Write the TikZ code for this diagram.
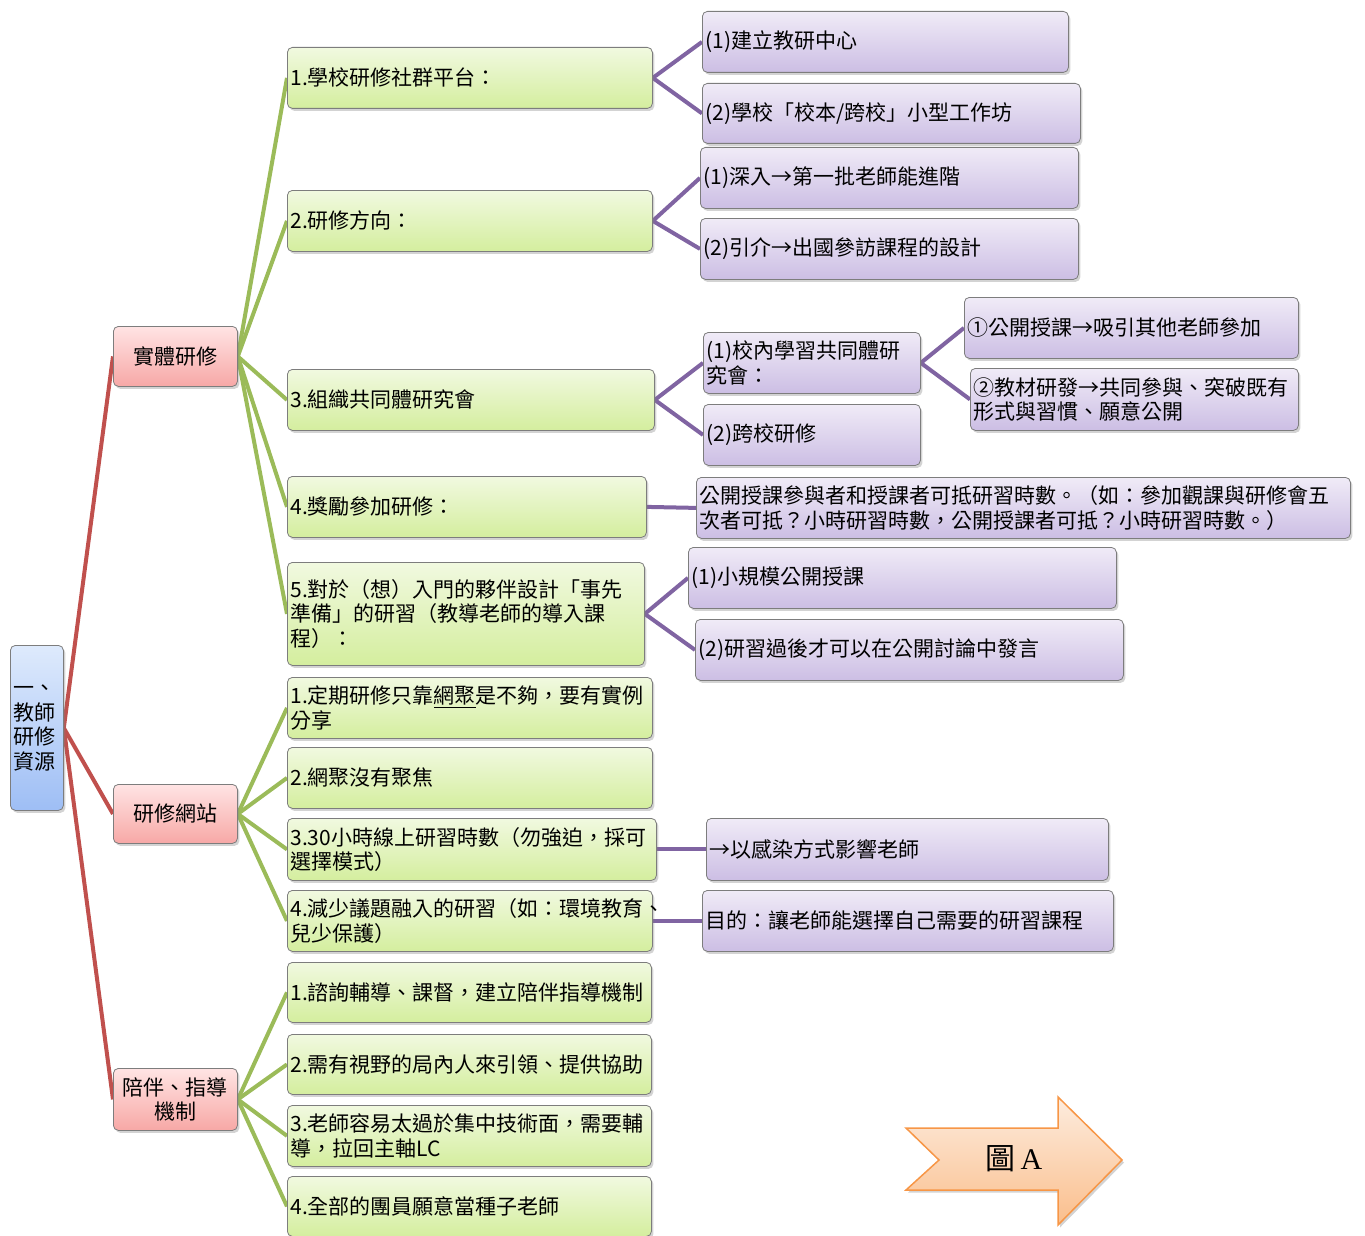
\documentclass[tikz,border=0pt]{standalone}
\usepackage{fontspec}
\setmainfont{Noto Sans CJK TC}
\newfontfamily\serifA{Liberation Serif}
\usetikzlibrary{shadows,backgrounds}
\definecolor{gtop}{RGB}{241,249,224}
\definecolor{gbot}{RGB}{212,238,158}
\definecolor{ptop}{RGB}{240,235,247}
\definecolor{pbot}{RGB}{204,190,228}
\definecolor{rtop}{RGB}{255,228,228}
\definecolor{rbot}{RGB}{247,168,166}
\definecolor{btop}{RGB}{222,234,252}
\definecolor{bbot}{RGB}{158,190,245}
\definecolor{edgegray}{RGB}{125,125,125}
\definecolor{redline}{RGB}{192,80,77}
\definecolor{greenline}{RGB}{155,187,89}
\definecolor{purpline}{RGB}{128,100,162}
\definecolor{arrtop}{RGB}{253,236,222}
\definecolor{arrbot}{RGB}{250,190,140}
\definecolor{arrline}{RGB}{247,150,70}
\tikzset{
  bx/.code 2 args={\pgfmathsetmacro\bxw{#1-6}\edef\bxtmp{\noexpand\tikzset{minimum width=#1pt, text width=\bxw pt, minimum height=#2pt}}\bxtmp},
  basebox/.style={rectangle, rounded corners=5pt, draw=edgegray, line width=0.8pt,
    inner xsep=3pt, inner ysep=2pt, anchor=north west, align=left,
    font=\fontsize{21pt}{24.5pt}\selectfont,
    drop shadow={opacity=0.35, shadow xshift=2pt, shadow yshift=-2.5pt}},
  gbox/.style={basebox, top color=gtop, bottom color=gbot},
  pbox/.style={basebox, top color=ptop, bottom color=pbot},
  rbox/.style={basebox, top color=rtop, bottom color=rbot, align=center},
  bbox/.style={basebox, top color=btop, bottom color=bbot},
  redc/.style={draw=redline, line width=4pt},
  greenc/.style={draw=greenline, line width=4pt},
  purpc/.style={draw=purpline, line width=4pt},
}
\begin{document}
\begin{tikzpicture}[x=1pt,y=-1pt]
\useasboundingbox (0,0) rectangle (1365,1236);
% root
\node[bbox, bx={53}{165}] (root) at (10,645) {一、\\教師\\研修\\資源};
% level 1
\node[rbox, bx={124}{60}] (r1) at (113,326) {實體研修};
\node[rbox, bx={124}{59}] (r2) at (113,784) {研修網站};
\node[rbox, bx={124}{62}] (r3) at (113,1068) {陪伴、指導\\機制};
% level 2
\node[gbox, bx={365}{61}] (g1) at (287,47) {1.學校研修社群平台：};
\node[gbox, bx={365}{61}] (g2) at (287,190) {2.研修方向：};
\node[gbox, bx={367}{61}] (g3) at (287,369) {3.組織共同體研究會};
\node[gbox, bx={359}{61}] (g4) at (287,476) {4.獎勵參加研修：};
\node[gbox, bx={357}{103}] (g5) at (287,562) {5.對於（想）入門的夥伴設計「事先\\準備」的研習（教導老師的導入課\\程）：};
\node[gbox, bx={365}{61}] (g6) at (287,677) {1.定期研修只靠\underline{網聚}是不夠，要有實例\\分享};
\node[gbox, bx={365}{61}] (g7) at (287,747) {2.網聚沒有聚焦};
\node[gbox, bx={369}{62}] (g8) at (287,818) {3.30小時線上研習時數（勿強迫，採可\\選擇模式）};
\node[gbox, bx={365}{61}] (g9) at (287,890) {4.減少議題融入的研習（如：環境教育、\\兒少保護）};
\node[gbox, bx={364}{60}] (g10) at (287,962) {1.諮詢輔導、課督，建立陪伴指導機制};
\node[gbox, bx={364}{60}] (g11) at (287,1034) {2.需有視野的局內人來引領、提供協助};
\node[gbox, bx={364}{61}] (g12) at (287,1105) {3.老師容易太過於集中技術面，需要輔\\導，拉回主軸LC};
\node[gbox, bx={364}{60}] (g13) at (287,1176) {4.全部的團員願意當種子老師};
% level 3
\node[pbox, bx={366}{61}] (p1) at (702,11) {(1)建立教研中心};
\node[pbox, bx={378}{60}] (p2) at (702,83) {(2)學校「校本/跨校」小型工作坊};
\node[pbox, bx={378}{61}] (p3) at (700,147) {(1)深入→第一批老師能進階};
\node[pbox, bx={378}{61}] (p4) at (700,218) {(2)引介→出國參訪課程的設計};
\node[pbox, bx={217}{61}] (p5) at (703,332) {(1)校內學習共同體研\\究會：};
\node[pbox, bx={217}{61}] (p6) at (703,404) {(2)跨校研修};
\node[pbox, bx={334}{61}] (p7) at (964,297) {①公開授課→吸引其他老師參加};
\node[pbox, bx={328}{62}] (p8) at (970,368) {②教材研發→共同參與、突破既有\\形式與習慣、願意公開};
\node[pbox, bx={654}{61}] (p9) at (696,477) {公開授課參與者和授課者可抵研習時數。（如：參加觀課與研修會五\\次者可抵？小時研習時數，公開授課者可抵？小時研習時數。）};
\node[pbox, bx={428}{61}] (p10) at (688,547) {(1)小規模公開授課};
\node[pbox, bx={428}{61}] (p11) at (695,619) {(2)研習過後才可以在公開討論中發言};
\node[pbox, bx={402}{62}] (p12) at (706,818) {→以感染方式影響老師};
\node[pbox, bx={411}{61}] (p13) at (702,890) {目的：讓老師能選擇自己需要的研習課程};
% connectors
\begin{pgfonlayer}{background}
\foreach \t in {r1,r2,r3} \draw[redc] (root.east) -- (\t.west);
\foreach \t in {g1,g2,g3,g4,g5} \draw[greenc] (r1.east) -- (\t.west);
\foreach \t in {g6,g7,g8,g9} \draw[greenc] (r2.east) -- (\t.west);
\foreach \t in {g10,g11,g12,g13} \draw[greenc] (r3.east) -- (\t.west);
\draw[purpc] (p1.west) -- (g1.east) -- (p2.west);
\draw[purpc] (p3.west) -- (g2.east) -- (p4.west);
\draw[purpc] (p5.west) -- (g3.east) -- (p6.west);
\draw[purpc] (p7.west) -- (p5.east) -- (p8.west);
\draw[purpc] (g4.east) -- (p9.west);
\draw[purpc] (p10.west) -- (g5.east) -- (p11.west);
\draw[purpc] (g8.east) -- (p12.west);
\draw[purpc] (g9.east) -- (p13.west);
\end{pgfonlayer}
% arrow
\path[draw=arrline, line width=1.5pt, line join=miter, top color=arrtop, bottom color=arrbot,
  drop shadow={opacity=0.35, shadow xshift=2pt, shadow yshift=-2.5pt}]
  (906,1128) -- (1058,1128) -- (1058,1097) -- (1122,1160) -- (1058,1225) -- (1058,1190) -- (906,1190) -- (939,1160) -- cycle;
\node[font=\fontsize{30pt}{30pt}\selectfont] (figA) at (1014,1159) {圖\,{\serifA A}};
\end{tikzpicture}
\end{document}
